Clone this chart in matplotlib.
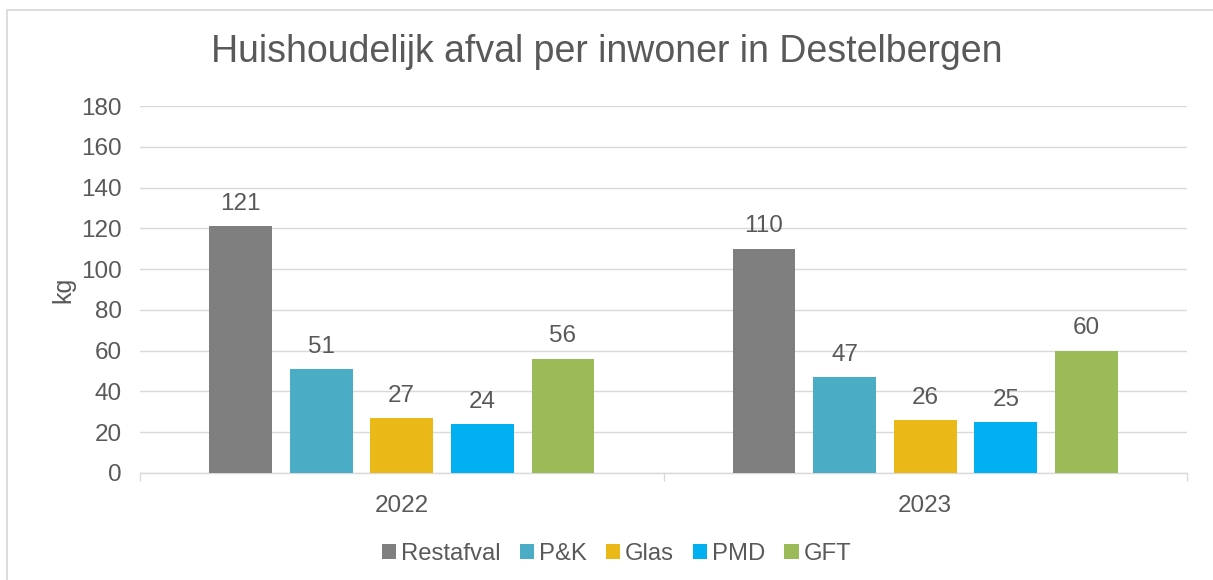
import matplotlib
matplotlib.use("Agg")
import matplotlib.pyplot as plt
from matplotlib.patches import Rectangle
import numpy as np

plt.rcParams['font.family'] = ['Liberation Sans', 'DejaVu Sans']

years = ["2022", "2023"]
series = ["Restafval", "P&K", "Glas", "PMD", "GFT"]
restafval = [121, 110]
pk = [51, 47]
glas = [27, 26]
pmd = [24, 25]
gft = [56, 60]
values = [restafval, pk, glas, pmd, gft]
colors = ["#7f7f7f", "#4bacc6", "#eab817", "#00b0f0", "#9bbb59"]
yticks = [0, 20, 40, 60, 80, 100, 120, 140, 160, 180]

txt = "#595959"
fig = plt.figure(figsize=(12.13, 5.80), dpi=100)
fig.patches.append(Rectangle((0.0054, -0.1), 1.2, 1.082, transform=fig.transFigure,
                             fill=False, edgecolor="#d9d9d9", linewidth=1.3))
ax = fig.add_axes([0.1154, 0.1845, 0.8632, 0.6327])

x = np.arange(len(years))
w = 0.12
step = 0.154
for i, (name, vals, c) in enumerate(zip(series, values, colors)):
    pos = x + (i - 2) * step
    bars = ax.bar(pos, vals, width=w, color=c, label=name, zorder=3)
    for b, v in zip(bars, vals):
        ax.text(b.get_x() + b.get_width() / 2, v + 11, str(v), ha="center", va="center",
                fontsize=17.5, color=txt)

ax.set_xlim(-0.5, 1.5)
ax.set_ylim(0, 180)
ax.set_yticks(yticks)
ax.grid(axis="y", color="#d9d9d9", linewidth=1, zorder=0)
for s in ["top", "right", "left"]:
    ax.spines[s].set_visible(False)
ax.spines["bottom"].set_color("#d9d9d9")
ax.spines["bottom"].set_linewidth(1)
ax.tick_params(axis="y", length=0, labelsize=17.5, labelcolor=txt, pad=13)
ax.set_xticks(x)
ax.set_xticklabels(years)
ax.tick_params(axis="x", which="major", length=0, labelsize=17.5, labelcolor=txt, pad=16)
ax.set_xticks([-0.5, 0.5, 1.5], minor=True)
ax.tick_params(axis="x", which="minor", length=6, color="#d9d9d9", width=1)
ax.set_ylabel("kg", fontsize=18, color=txt, labelpad=4)

fig.text(0.5, 0.91, "Huishoudelijk afval per inwoner in Destelbergen", ha="center", va="center",
         fontsize=27, color=txt)

ax.legend(loc="center", bbox_to_anchor=(0.455, -0.22), ncol=5, frameon=False,
          fontsize=17.2, labelcolor=txt, handlelength=0.6, handleheight=0.6,
          handletextpad=0.2, columnspacing=0.8)

fig.savefig("out.png", dpi=100)
